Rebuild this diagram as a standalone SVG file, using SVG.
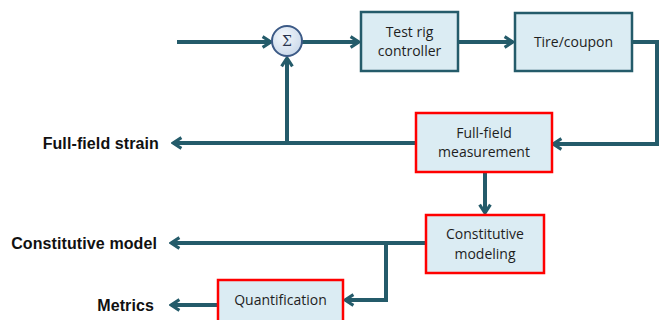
<svg xmlns="http://www.w3.org/2000/svg" width="660" height="320" viewBox="0 0 660 320">
  <style>
    .box { fill: #dbecf3; stroke: #245b6a; stroke-width: 2.5; }
    .hot { fill: #dbecf3; stroke: #ff0000; stroke-width: 2.5; }
    .lbl { font-family: "Open Sans", "Liberation Sans", sans-serif; font-size: 14px; fill: #1e1e1e; text-anchor: middle; }
    .out { font-family: "Liberation Sans", Arial, sans-serif; font-size: 16px; font-weight: bold; fill: #111; text-anchor: end; letter-spacing: 0.1px; }
    .wire { fill: none; stroke: #245b6a; stroke-width: 4; }
    .wire-a { fill: none; stroke: #245b6a; stroke-width: 4; marker-end: url(#chev); }
  </style>
  <defs>
    <marker id="chev" viewBox="0 0 12 12" refX="10" refY="6" markerWidth="3.6" markerHeight="3.6" orient="auto" markerUnits="strokeWidth">
      <path d="M3,1.5 L10,6 L3,10.5" fill="none" stroke="#245b6a" stroke-width="2.6" stroke-linejoin="miter"/>
    </marker>
    <radialGradient id="sumFill" cx="0.4" cy="0.35" r="0.7">
      <stop offset="0" stop-color="#f4f8fc"/>
      <stop offset="1" stop-color="#c9d8ea"/>
    </radialGradient>
  </defs>

  <!-- connectors -->
  <g id="connectors">
    <line class="wire-a" x1="177" y1="42" x2="271" y2="42"/>
    <line class="wire-a" x1="302" y1="42" x2="359" y2="42"/>
    <line class="wire-a" x1="458" y1="42" x2="513" y2="42"/>
    <polyline class="wire-a" points="632,42 657,42 657,144 553,144"/>
    <line class="wire-a" x1="287" y1="143" x2="287" y2="58"/>
    <line class="wire-a" x1="416" y1="143" x2="173" y2="143"/>
    <line class="wire-a" x1="485" y1="173" x2="485" y2="213"/>
    <line class="wire-a" x1="426" y1="243" x2="171" y2="243"/>
    <polyline class="wire-a" points="386,243 386,300 345,300"/>
    <line class="wire-a" x1="218" y1="305" x2="171" y2="305"/>
  </g>

  <!-- summing junction -->
  <g id="sum">
    <circle cx="287" cy="41" r="15" fill="url(#sumFill)" stroke="#3c5a86" stroke-width="2"/>
    <text x="287" y="46" font-family="DejaVu Serif, serif" font-size="14" fill="#2b3550" text-anchor="middle">Σ</text>
  </g>

  <g id="controller">
    <rect class="box" x="361" y="12" width="97" height="59"/>
    <text class="lbl" x="409.5" y="37">Test rig</text>
    <text class="lbl" x="409.5" y="56">controller</text>
  </g>

  <g id="tire">
    <rect class="box" x="515" y="13" width="117" height="58"/>
    <text class="lbl" x="573.5" y="47">Tire/coupon</text>
  </g>

  <g id="measurement">
    <rect class="hot" x="416" y="113" width="136" height="59"/>
    <text class="lbl" x="484" y="138">Full-field</text>
    <text class="lbl" x="484" y="157">measurement</text>
  </g>

  <g id="modeling">
    <rect class="hot" x="426" y="215" width="118" height="58"/>
    <text class="lbl" x="485" y="239">Constitutive</text>
    <text class="lbl" x="485" y="259">modeling</text>
  </g>

  <g id="quantification">
    <rect class="hot" x="218" y="280" width="125" height="45"/>
    <text class="lbl" x="280.5" y="305">Quantification</text>
  </g>

  <g id="outputs">
    <text class="out" x="159" y="149">Full-field strain</text>
    <text class="out" x="157" y="249">Constitutive model</text>
    <text class="out" x="154" y="311">Metrics</text>
  </g>
</svg>
